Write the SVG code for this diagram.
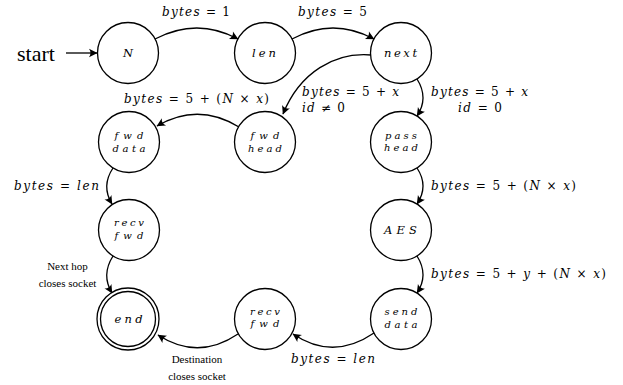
<svg xmlns="http://www.w3.org/2000/svg" width="623" height="385" viewBox="0 0 623 385">
<defs>
<marker id="ah" viewBox="-9 -5 10 10" refX="0" refY="0" markerWidth="10" markerHeight="10" markerUnits="userSpaceOnUse" orient="auto">
<path d="M0.5,0 L-8,-4.2 Q-5,0 -8,4.2 Z" fill="#000"/>
</marker>
<style>
.n circle{fill:#fff;stroke:#000;stroke-width:1.3}
.m{font-style:italic;font-size:12px;fill:#000}
.m tspan.r{font-style:normal}
.nl{font-style:italic;font-size:11.5px;fill:#000;text-anchor:middle}
.n2{font-style:italic;font-size:10px;fill:#000;text-anchor:middle}
.t{font-size:11px;fill:#000;text-anchor:middle}
.e path{fill:none;stroke:#000;stroke-width:1.3;marker-end:url(#ah)}
</style>
</defs>
<rect width="623" height="385" fill="#fff"/>

<g id="start">
<text x="17" y="61" font-family="Liberation Serif, serif" font-size="22">start</text>
</g>

<g class="e" id="edges">
<path d="M66,53 L97,53"/>
<path d="M155,39 Q197,17 238,39"/>
<path d="M292,39 Q333,17 374,39"/>
<path d="M371,55 C335,52 300,72 283,114"/>
<path d="M417,79 Q429,98 417,116"/>
<path d="M239,127 Q198,102 157,126"/>
<path d="M113,168 Q101,186 112,204"/>
<path d="M417,168 Q429,186 417,204"/>
<path d="M113,256 Q101,275 112,293"/>
<path d="M417,256 Q429,275 417,293"/>
<path d="M374,333 Q333,361 293,334"/>
<path d="M238,334 Q198,361 158,335"/>
</g>

<g id="edge-labels" font-family="DejaVu Serif, serif">
<text class="m" x="162" y="16" textLength="68" lengthAdjust="spacing">bytes <tspan class="r">= 1</tspan></text>
<text class="m" x="298" y="16" textLength="69" lengthAdjust="spacing">bytes <tspan class="r">= 5</tspan></text>
<text class="m" x="124" y="103" textLength="145" lengthAdjust="spacing">bytes <tspan class="r">= 5 + (</tspan>N <tspan class="r">×</tspan> x<tspan class="r">)</tspan></text>
<text class="m" x="302" y="96" textLength="97" lengthAdjust="spacing">bytes <tspan class="r">= 5 +</tspan> x</text>
<text class="m" x="302" y="112" textLength="43" lengthAdjust="spacing">id <tspan class="r">≠ 0</tspan></text>
<text class="m" x="431" y="96" textLength="97" lengthAdjust="spacing">bytes <tspan class="r">= 5 +</tspan> x</text>
<text class="m" x="458" y="112" textLength="44" lengthAdjust="spacing">id <tspan class="r">= 0</tspan></text>
<text class="m" x="14" y="190" textLength="85" lengthAdjust="spacing">bytes <tspan class="r">=</tspan> len</text>
<text class="m" x="431" y="190" textLength="145" lengthAdjust="spacing">bytes <tspan class="r">= 5 + (</tspan>N <tspan class="r">×</tspan> x<tspan class="r">)</tspan></text>
<text class="m" x="431" y="278" textLength="175" lengthAdjust="spacing">bytes <tspan class="r">= 5 +</tspan> y <tspan class="r">+ (</tspan>N <tspan class="r">×</tspan> x<tspan class="r">)</tspan></text>
<text class="m" x="291" y="363" textLength="84" lengthAdjust="spacing">bytes <tspan class="r">=</tspan> len</text>
</g>
<g id="plain-labels" font-family="Liberation Serif, serif">
<text class="t" x="67.5" y="270">Next hop</text>
<text class="t" x="67.5" y="287">closes socket</text>
<text class="t" x="197" y="363">Destination</text>
<text class="t" x="197" y="380">closes socket</text>
</g>

<g id="nodes" font-family="DejaVu Serif, serif">
<g class="n" id="N"><circle cx="128" cy="53" r="30.5"/><text class="nl" x="128" y="57">N</text></g>
<g class="n" id="len"><circle cx="265" cy="53" r="30.5"/><text class="nl" x="264" y="56.5" textLength="24" lengthAdjust="spacing">len</text></g>
<g class="n" id="next"><circle cx="401" cy="53" r="30.5"/><text class="nl" x="400.5" y="56.5" textLength="33" lengthAdjust="spacing">next</text></g>
<g class="n" id="fwd-data"><circle cx="129" cy="142" r="30.5"/><text class="n2" x="129" y="139" textLength="29" lengthAdjust="spacing">fwd</text><text class="n2" x="129" y="151.5" textLength="33" lengthAdjust="spacing">data</text></g>
<g class="n" id="fwd-head"><circle cx="265" cy="142" r="30.5"/><text class="n2" x="265" y="139" textLength="29" lengthAdjust="spacing">fwd</text><text class="n2" x="265" y="151.5" textLength="34" lengthAdjust="spacing">head</text></g>
<g class="n" id="pass-head"><circle cx="401" cy="142" r="30.5"/><text class="n2" x="401" y="138.5" textLength="32" lengthAdjust="spacing">pass</text><text class="n2" x="401" y="151" textLength="34" lengthAdjust="spacing">head</text></g>
<g class="n" id="recv-fwd-1"><circle cx="129" cy="230" r="30.5"/><text class="n2" x="129" y="226" textLength="30" lengthAdjust="spacing">recv</text><text class="n2" x="129" y="238.5" textLength="29" lengthAdjust="spacing">fwd</text></g>
<g class="n" id="AES"><circle cx="401" cy="230" r="30.5"/><text class="nl" x="400.5" y="234" textLength="33" lengthAdjust="spacing">AES</text></g>
<g class="n" id="end"><circle cx="128" cy="319" r="31"/><circle cx="128" cy="319" r="27.5"/><text class="nl" x="128.5" y="322.5" textLength="28" lengthAdjust="spacing">end</text></g>
<g class="n" id="recv-fwd-2"><circle cx="265" cy="319" r="30.5"/><text class="n2" x="265" y="314.5" textLength="30" lengthAdjust="spacing">recv</text><text class="n2" x="265" y="327" textLength="29" lengthAdjust="spacing">fwd</text></g>
<g class="n" id="send-data"><circle cx="401" cy="319" r="30.5"/><text class="n2" x="401" y="315" textLength="33" lengthAdjust="spacing">send</text><text class="n2" x="401" y="327.5" textLength="33" lengthAdjust="spacing">data</text></g>
</g>
</svg>
